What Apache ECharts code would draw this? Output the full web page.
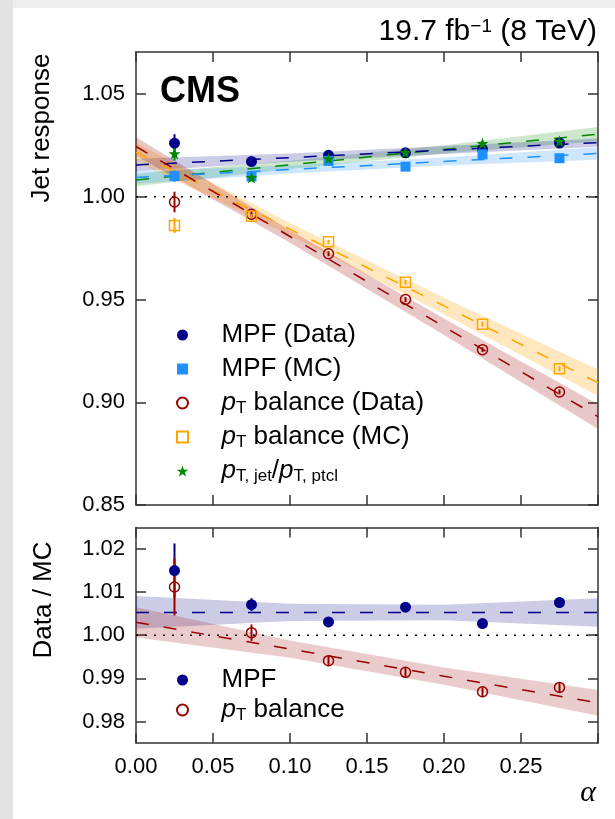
<!DOCTYPE html>
<html><head><meta charset="utf-8">
<script src="https://cdn.jsdelivr.net/npm/echarts@6/dist/echarts.min.js"></script>
<style>html,body{margin:0;padding:0;background:#fff}#c{width:615px;height:819px}</style>
</head><body><div id="c"></div>
<script>
// ---------- data ----------
const alpha = [0.025, 0.075, 0.125, 0.175, 0.225, 0.275];

// top panel: jet response
const mpfData    = [1.0261, 1.0172, 1.0202, 1.0214, 1.0232, 1.0262];
const mpfDataErr = [0.0044, 0.0012, 0.0010, 0.0010, 0.0010, 0.0010];
const mpfMC      = [1.0101, 1.0099, 1.0175, 1.0147, 1.0207, 1.0188];
const mpfMCErr   = [0.0027, 0.0008, 0.0008, 0.0008, 0.0008, 0.0008];
const ptData     = [0.9975, 0.9915, 0.9723, 0.9500, 0.9256, 0.9050];
const ptDataErr  = [0.0050, 0.0015, 0.0012, 0.0012, 0.0012, 0.0012];
const ptMC       = [0.9861, 0.9905, 0.9781, 0.9584, 0.9380, 0.9163];
const ptMCErr    = [0.0037, 0.0010, 0.0010, 0.0012, 0.0012, 0.0012];
const ptcl       = [1.0210, 1.0094, 1.0186, 1.0216, 1.0260, 1.0270];
const ptclErr    = [0.0034, 0.0008, 0.0008, 0.0008, 0.0008, 0.0008];

// fit lines and uncertainty bands, read at these alpha values
const fitX = [0, 0.1, 0.2, 0.3];
const mpfDataFit = [1.0155, 1.0191, 1.0228, 1.0264];
const mpfDataLo  = [1.0125, 1.0171, 1.0208, 1.0244];
const mpfDataHi  = [1.0185, 1.0211, 1.0248, 1.0284];
const mpfMCFit   = [1.0094, 1.0133, 1.0172, 1.0211];
const mpfMCLo    = [1.0064, 1.0113, 1.0152, 1.0181];
const mpfMCHi    = [1.0124, 1.0153, 1.0192, 1.0241];
const ptclFit    = [1.0082, 1.0156, 1.0231, 1.0305];
const ptclLo     = [1.0052, 1.0136, 1.0211, 1.0270];
const ptclHi     = [1.0112, 1.0176, 1.0251, 1.0340];
const ptDataFit  = [1.0245, 0.9807, 0.9368, 0.8930];
const ptDataLo   = [1.0200, 0.9777, 0.9328, 0.8870];
const ptDataHi   = [1.0290, 0.9837, 0.9408, 0.8990];
const ptMCFit    = [1.0217, 0.9843, 0.9469, 0.9095];
const ptMCLo     = [1.0172, 0.9813, 0.9429, 0.9030];
const ptMCHi     = [1.0262, 0.9873, 0.9509, 0.9160];

// bottom panel: data / MC
const rMPF      = [1.0150, 1.0071, 1.0031, 1.0065, 1.0027, 1.0076];
const rMPFErr   = [0.0063, 0.0015, 0.0010, 0.0008, 0.0008, 0.0012];
const rPt       = [1.0112, 1.0006, 0.9941, 0.9914, 0.9869, 0.9879];
const rPtErr    = [0.0066, 0.0019, 0.0012, 0.0010, 0.0010, 0.0012];
const rMPFFit   = [1.0053, 1.0053, 1.0053, 1.0053];
const rMPFLo    = [1.0015, 1.0033, 1.0035, 1.0020];
const rMPFHi    = [1.0091, 1.0073, 1.0071, 1.0086];
const rPtFit    = [1.0030, 0.9968, 0.9905, 0.9843];
const rPtLo     = [0.9995, 0.9948, 0.9885, 0.9813];
const rPtHi     = [1.0065, 0.9988, 0.9925, 0.9873];

const refLineX = [0, 0.3];
const refLineY = [1, 1];

const xTicks   = [0, 0.05, 0.10, 0.15, 0.20, 0.25, 0.30];
const xLabels  = [0, 0.05, 0.10, 0.15, 0.20, 0.25];
const yTopTicks = [0.85, 0.90, 0.95, 1.00, 1.05];
const yBotTicks = [0.98, 0.99, 1.00, 1.01, 1.02];

// ---------- style ----------
const FONT = 'Liberation Sans, Arial, Helvetica, sans-serif';
const C_NAVY = '#000088', C_BLUE = '#1e90ff', C_RED = '#990000', C_ORANGE = '#ffa500', C_GREEN = '#008800';
const STAR = 'path://M50,0 L61.8,35.1 L98.8,35.1 L68.9,56.8 L80.2,91.9 L50,70.2 L19.8,91.9 L31.1,56.8 L1.2,35.1 L38.2,35.1 Z';
const SQUARE = 'path://M0,0 L10,0 L10,10 L0,10 Z';

const chart = echarts.init(document.getElementById('c'), null, {renderer: 'canvas'});

const frameLine = {show: true, onZero: false, lineStyle: {color: '#333', width: 1.5}};
function xAx(grid, pos, labels) {
  return {
    type: 'value', gridIndex: grid, position: pos, min: 0, max: 0.3,
    axisLine: frameLine,
    axisTick: {show: true, inside: true, length: 10, customValues: xTicks, lineStyle: {color: '#333', width: 1.5}},
    axisLabel: labels ? {show: true, customValues: xLabels, margin: 13, color: '#000', fontSize: 22, fontFamily: FONT,
      formatter: v => v.toFixed(2)} : {show: false},
    splitLine: {show: false}
  };
}
function yAx(grid, pos, min, max, ticks, labels) {
  return {
    type: 'value', gridIndex: grid, position: pos, min: min, max: max,
    axisLine: frameLine,
    axisTick: {show: true, inside: true, length: 10, customValues: ticks, lineStyle: {color: '#333', width: 1.5}},
    axisLabel: labels ? {show: true, customValues: ticks, margin: 11, color: '#000', fontSize: 22, fontFamily: FONT,
      formatter: v => v.toFixed(2)} : {show: false},
    splitLine: {show: false}
  };
}

// panel p: 0 = top, 1 = bottom -> axis index 0 or 2
const AX = [0, 2];
function band(p, lo, hi, color) {
  return {
    type: 'custom', xAxisIndex: AX[p], yAxisIndex: AX[p], silent: true, z: 1, clip: true,
    data: [[0.1, 1.0]],
    renderItem: (params, api) => {
      const pts = [];
      for (let i = 0; i < fitX.length; i++) pts.push(api.coord([fitX[i], hi[i]]));
      for (let i = fitX.length - 1; i >= 0; i--) pts.push(api.coord([fitX[i], lo[i]]));
      return {type: 'polygon', shape: {points: pts}, style: {fill: color}};
    }
  };
}
function fit(p, vals, color) {
  return {
    type: 'line', xAxisIndex: AX[p], yAxisIndex: AX[p], silent: true, z: 2, symbol: 'none',
    data: fitX.map((x, i) => [x, vals[i]]),
    lineStyle: {color: color, width: 1.5, type: [13, 15]}
  };
}
function errs(p, vals, e, color) {
  return {
    type: 'custom', xAxisIndex: AX[p], yAxisIndex: AX[p], silent: true, z: 3,
    data: alpha.map((a, i) => [a, vals[i] - e[i], vals[i] + e[i]]),
    renderItem: (params, api) => {
      const p1 = api.coord([api.value(0), api.value(1)]);
      const p2 = api.coord([api.value(0), api.value(2)]);
      return {type: 'line', shape: {x1: p1[0], y1: p1[1], x2: p2[0], y2: p2[1]}, style: {stroke: color, lineWidth: 2}};
    }
  };
}
function pts(p, name, vals, symbol, size, color, open) {
  return {
    type: 'scatter', name: name, xAxisIndex: AX[p], yAxisIndex: AX[p], z: 4, symbol: symbol, symbolSize: size,
    data: alpha.map((a, i) => [a, vals[i]]),
    itemStyle: open ? {color: 'rgba(255,255,255,0)', borderColor: color, borderWidth: 1.5, opacity: 1}
                    : {color: color, opacity: 1}
  };
}
function ref(p) {
  return {
    type: 'line', xAxisIndex: AX[p], yAxisIndex: AX[p], silent: true, z: 2, symbol: 'none',
    data: refLineX.map((x, i) => [x, refLineY[i]]),
    lineStyle: {color: '#000', width: 1.5, type: [2, 7]}
  };
}

const nameFmt = {
  'MPF (Data)': 'MPF (Data)',
  'MPF (MC)': 'MPF (MC)',
  'pT balance (Data)': '{i|p}{s|T} balance (Data)',
  'pT balance (MC)': '{i|p}{s|T} balance (MC)',
  'pT,jet/pT,ptcl': '{i|p}{s|T, jet}/{i|p}{s|T, ptcl}',
  'MPF': 'MPF',
  'pT balance': '{i|p}{s|T} balance'
};
const legText = {
  color: '#000', fontSize: 26, fontFamily: FONT, lineHeight: 28,
  rich: {
    i: {fontStyle: 'italic', fontSize: 26, fontFamily: FONT, lineHeight: 28, color: '#000'},
    s: {fontSize: 17, fontFamily: FONT, lineHeight: 12, verticalAlign: 'bottom', color: '#000'}
  }
};

const option = {
  animation: false,
  backgroundColor: '#fff',
  grid: [
    {left: 136, top: 52, width: 462, height: 453, outerBoundsMode: 'none'},
    {left: 136, top: 527.5, width: 462, height: 215.5, outerBoundsMode: 'none'}
  ],
  xAxis: [xAx(0, 'bottom', false), xAx(0, 'top', false), xAx(1, 'bottom', true), xAx(1, 'top', false)],
  yAxis: [yAx(0, 'left', 0.85, 1.0705, yTopTicks, true), yAx(0, 'right', 0.85, 1.0705, yTopTicks, false),
          yAx(1, 'left', 0.975, 1.025, yBotTicks, true), yAx(1, 'right', 0.975, 1.025, yBotTicks, false)],
  legend: [
    {show: true, orient: 'vertical', left: 171, top: 316, itemWidth: 68, itemHeight: 11, itemGap: 6,
     selectedMode: false, textStyle: legText, formatter: n => nameFmt[n],
     data: ['MPF (Data)', 'MPF (MC)', 'pT balance (Data)', 'pT balance (MC)', 'pT,jet/pT,ptcl']},
    {show: true, orient: 'vertical', left: 171, top: 661, itemWidth: 68, itemHeight: 11, itemGap: 2,
     selectedMode: false, textStyle: legText, formatter: n => nameFmt[n],
     data: ['MPF', 'pT balance']}
  ],
  graphic: [
    {type: 'rect', shape: {x: 0, y: 0, width: 13, height: 819}, style: {fill: '#e3e3e3'}, z: -10},
    {type: 'rect', shape: {x: 13, y: 0, width: 602, height: 8}, style: {fill: '#eeeeee'}, z: -10},
    {type: 'text', x: 597, y: 32, style: {text: '19.7 fb{sup|−1} (8 TeV)', textAlign: 'right', textVerticalAlign: 'middle',
      font: '30px ' + FONT, fill: '#000', lineHeight: 30,
      rich: {sup: {fontSize: 19, fontFamily: FONT, lineHeight: 14, verticalAlign: 'top', fill: '#000'}}}},
    {type: 'text', x: 160, y: 92, style: {text: 'CMS', textAlign: 'left', textVerticalAlign: 'middle',
      font: 'bold 36px ' + FONT, fill: '#000'}},
    {type: 'text', x: 42, y: 128, rotation: Math.PI / 2, style: {text: 'Jet response', textAlign: 'center',
      textVerticalAlign: 'middle', font: '26px ' + FONT, fill: '#000'}},
    {type: 'text', x: 44, y: 600, rotation: Math.PI / 2, style: {text: 'Data / MC', textAlign: 'center',
      textVerticalAlign: 'middle', font: '26px ' + FONT, fill: '#000'}},
    {type: 'text', x: 588, y: 793, style: {text: 'α', textAlign: 'center', textVerticalAlign: 'middle',
      font: 'italic 30px Liberation Serif, DejaVu Serif, serif', fill: '#000'}}
  ],
  series: [
    band(0, ptclLo, ptclHi, 'rgba(0,136,0,0.2)'),
    band(0, mpfMCLo, mpfMCHi, 'rgba(30,144,255,0.22)'),
    band(0, mpfDataLo, mpfDataHi, 'rgba(0,0,136,0.2)'),
    band(0, ptMCLo, ptMCHi, 'rgba(255,165,0,0.25)'),
    band(0, ptDataLo, ptDataHi, 'rgba(153,0,0,0.22)'),
    fit(0, ptclFit, C_GREEN), fit(0, mpfMCFit, C_BLUE), fit(0, mpfDataFit, C_NAVY),
    fit(0, ptMCFit, C_ORANGE), fit(0, ptDataFit, C_RED),
    ref(0),
    errs(0, mpfData, mpfDataErr, C_NAVY), errs(0, mpfMC, mpfMCErr, C_BLUE), errs(0, ptData, ptDataErr, C_RED),
    errs(0, ptMC, ptMCErr, C_ORANGE), errs(0, ptcl, ptclErr, C_GREEN),
    pts(0, 'MPF (Data)', mpfData, 'circle', 11, C_NAVY, false),
    pts(0, 'MPF (MC)', mpfMC, SQUARE, 10, C_BLUE, false),
    pts(0, 'pT balance (Data)', ptData, 'circle', 10, C_RED, true),
    pts(0, 'pT balance (MC)', ptMC, SQUARE, 10, C_ORANGE, true),
    pts(0, 'pT,jet/pT,ptcl', ptcl, STAR, 12, C_GREEN, false),

    band(1, rMPFLo, rMPFHi, 'rgba(0,0,136,0.2)'),
    band(1, rPtLo, rPtHi, 'rgba(153,0,0,0.2)'),
    fit(1, rMPFFit, C_NAVY), fit(1, rPtFit, C_RED),
    ref(1),
    errs(1, rMPF, rMPFErr, C_NAVY), errs(1, rPt, rPtErr, C_RED),
    pts(1, 'MPF', rMPF, 'circle', 11, C_NAVY, false),
    pts(1, 'pT balance', rPt, 'circle', 10, C_RED, true)
  ]
};
chart.setOption(option);
</script>
</body></html>
